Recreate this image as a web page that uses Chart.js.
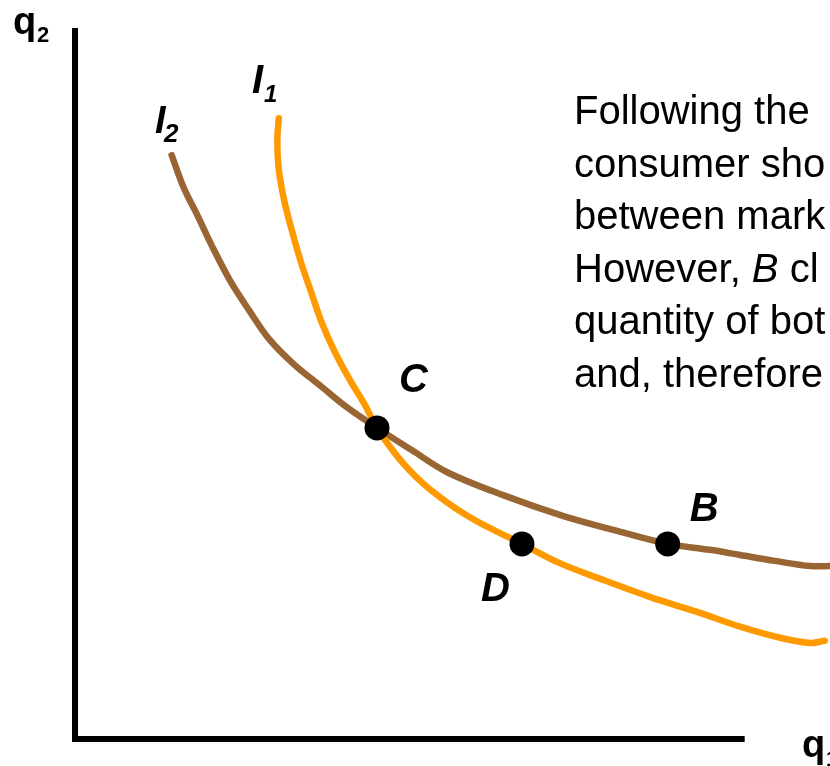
<!DOCTYPE html>
<html>
<head>
<meta charset="utf-8">
<script src="https://cdn.jsdelivr.net/npm/chart.js@4/dist/chart.umd.min.js"></script>
<style>
  html, body { margin: 0; padding: 0; background: #ffffff; }
  #wrap { width: 830px; height: 766px; }
</style>
</head>
<body>
<div id="wrap"><canvas id="c" width="830" height="766"></canvas></div>
<script>
// Indifference curve I2 (brown): q1 values and q2 values
const i2Q1 = [1.28, 1.44, 1.62, 1.81, 2.05, 2.30, 2.58, 2.90, 3.25, 3.60, 4.00, 4.46, 4.93, 5.67, 6.46, 7.13, 7.85, 8.41, 8.81, 9.27, 9.74, 10.0];
const i2Q2 = [7.90, 7.46, 7.09, 6.68, 6.21, 5.81, 5.40, 5.07, 4.78, 4.49, 4.21, 3.91, 3.61, 3.30, 3.02, 2.83, 2.64, 2.56, 2.49, 2.41, 2.34, 2.34];

// Indifference curve I1 (orange)
const i1Q1 = [2.70, 2.68, 2.70, 2.77, 2.87, 2.99, 3.13, 3.27, 3.44, 3.64, 3.84, 4.00, 4.33, 4.70, 5.23, 5.92, 6.42, 6.95, 7.62, 8.24, 8.81, 9.34, 9.74, 9.93];
const i1Q2 = [8.40, 8.11, 7.70, 7.29, 6.89, 6.46, 6.04, 5.63, 5.24, 4.86, 4.52, 4.21, 3.75, 3.38, 3.00, 2.64, 2.38, 2.17, 1.92, 1.72, 1.52, 1.37, 1.30, 1.33];

// Market baskets
const basketNames = ["C", "D", "B"];
const basketQ1 = [4.00, 5.92, 7.85];
const basketQ2 = [4.21, 2.64, 2.64];

// Axis extents (q1 axis, q2 axis)
const q1AxisEnd = 8.87;
const q2AxisEnd = 9.62;

// Text
const curveNames = ["I", "I"];
const curveSubs = ["1", "2"];
const axisNames = ["q", "q"];
const axisSubs = ["2", "1"];
const noteLines = ["Following the", "consumer sho", "between mark", "However, |B| cl", "quantity of bot", "and, therefore"];

const zip = (xs, ys) => xs.map((x, i) => ({ x: x, y: ys[i] }));

const FONT = '"Liberation Sans", Arial, sans-serif';

const labelPlugin = {
  id: 'labels',
  afterDatasetsDraw(chart) {
    const ctx = chart.ctx;
    const xs = chart.scales.x, ys = chart.scales.y;
    ctx.save();
    ctx.fillStyle = '#000000';
    ctx.textBaseline = 'alphabetic';
    ctx.textAlign = 'left';

    // axis labels
    ctx.font = 'bold 38px ' + FONT;
    ctx.fillText(axisNames[0], 13, 34);
    ctx.font = 'bold 22px ' + FONT;
    ctx.fillText(axisSubs[0], 37, 42);
    ctx.font = 'bold 38px ' + FONT;
    ctx.fillText(axisNames[1], 802, 757);
    ctx.font = 'bold 22px ' + FONT;
    ctx.fillText(axisSubs[1], 826, 766);

    // curve labels
    ctx.font = 'italic bold 40px ' + FONT;
    ctx.fillText(curveNames[0], 252, 93);
    ctx.font = 'italic bold 24px ' + FONT;
    ctx.fillText(curveSubs[0], 264, 102);
    ctx.font = 'italic bold 38px ' + FONT;
    ctx.fillText(curveNames[1], 155, 133);
    ctx.font = 'italic bold 26px ' + FONT;
    ctx.fillText(curveSubs[1], 164, 142);

    // basket labels, placed relative to their points
    const offs = [[22, -36], [-41, 57], [22, -23]];
    ctx.font = 'italic bold 40px ' + FONT;
    basketNames.forEach((n, i) => {
      const px = xs.getPixelForValue(basketQ1[i]);
      const py = ys.getPixelForValue(basketQ2[i]);
      ctx.fillText(n, px + offs[i][0], py + offs[i][1]);
    });

    // note text
    const size = 40, lh = 52.5;
    noteLines.forEach((line, i) => {
      let x = 574;
      const y = 124 + i * lh;
      const parts = line.split('|');
      parts.forEach((p, k) => {
        ctx.font = (k % 2 === 1 ? 'italic ' : '') + size + 'px ' + FONT;
        ctx.fillText(p, x, y);
        x += ctx.measureText(p).width;
      });
    });
    ctx.restore();
  }
};

new Chart(document.getElementById('c'), {
  type: 'scatter',
  data: {
    datasets: [
      {
        label: 'baskets',
        data: zip(basketQ1, basketQ2),
        pointRadius: 12.5,
        pointHoverRadius: 12.5,
        pointBackgroundColor: '#000000',
        pointBorderColor: '#000000',
        pointBorderWidth: 0,
        showLine: false,
        order: 0
      },
      {
        label: 'I1',
        data: zip(i1Q1, i1Q2),
        showLine: true,
        borderColor: '#FF9900',
        borderWidth: 6.5,
        pointRadius: 0,
        tension: 0.35,
        borderCapStyle: 'round',
        borderJoinStyle: 'round',
        fill: false,
        clip: false,
        order: 1
      },
      {
        label: 'I2',
        data: zip(i2Q1, i2Q2),
        showLine: true,
        borderColor: '#996633',
        borderWidth: 6.5,
        pointRadius: 0,
        tension: 0.35,
        borderCapStyle: 'round',
        borderJoinStyle: 'round',
        fill: false,
        clip: false,
        order: 2
      },
      {
        label: 'q1 axis',
        data: [{ x: 0, y: 0 }, { x: q1AxisEnd, y: 0 }],
        showLine: true,
        borderColor: '#000000',
        borderWidth: 6,
        pointRadius: 0,
        borderCapStyle: 'butt',
        clip: false,
        order: 3
      },
      {
        label: 'q2 axis',
        data: [{ x: 0, y: -0.04 }, { x: 0, y: q2AxisEnd }],
        showLine: true,
        borderColor: '#000000',
        borderWidth: 6,
        pointRadius: 0,
        borderCapStyle: 'butt',
        clip: false,
        order: 3
      }
    ]
  },
  options: {
    responsive: false,
    animation: false,
    events: [],
    layout: { autoPadding: false, padding: { left: 75, right: 0, top: 0, bottom: 27 } },
    plugins: { legend: { display: false }, tooltip: { enabled: false }, title: { display: false } },
    scales: {
      x: { type: 'linear', min: 0, max: 10, display: false },
      y: { type: 'linear', min: 0, max: 10, display: false }
    }
  },
  plugins: [labelPlugin]
});
</script>
</body>
</html>
